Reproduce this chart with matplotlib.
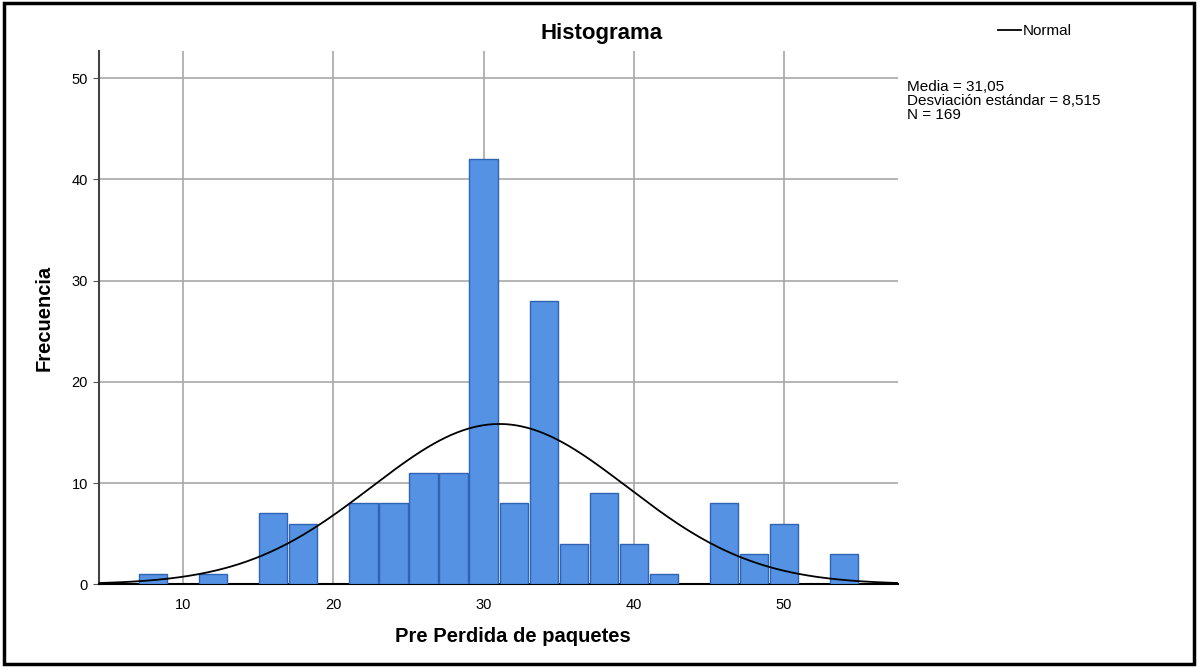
import numpy as np
import matplotlib
matplotlib.use("Agg")
import matplotlib.pyplot as plt
from matplotlib.patches import Rectangle
from matplotlib.lines import Line2D

plt.rcParams['font.family'] = ['Liberation Sans', 'DejaVu Sans']

# bin centres (bin width 2) and counts
bin_centers = [8, 12, 16, 18, 22, 24, 26, 28, 30, 32, 34, 36, 38, 40, 42, 46, 48, 50, 54]
counts = [1, 1, 7, 6, 8, 8, 11, 11, 42, 8, 28, 4, 9, 4, 1, 8, 3, 6, 3]
bin_width = 2
mean = 31.05
std = 8.515
n = 169

x_ticks = [10, 20, 30, 40, 50]
y_ticks = [0, 10, 20, 30, 40, 50]

fig = plt.figure(figsize=(12, 6.7), dpi=100)
ax = fig.add_axes([0.0825, 0.128, 0.666, 0.796])

ax.bar(bin_centers, counts, width=bin_width * 0.94, color='#5592e3',
       edgecolor='#2f63b4', linewidth=1.0, zorder=3)

xs = np.linspace(4.4, 57.6, 400)
pdf = n * bin_width / (std * np.sqrt(2 * np.pi)) * np.exp(-0.5 * ((xs - mean) / std) ** 2)
ax.plot(xs, pdf, color='black', linewidth=1.3, zorder=4)

ax.set_xlim(4.4, 57.6)
ax.set_ylim(0, 52.7)
ax.set_xticks(x_ticks)
ax.set_yticks(y_ticks)
ax.grid(True, color='#a8a8a8', linewidth=1.2, zorder=0)
ax.tick_params(axis='x', length=0, pad=10, labelsize=10.5)
ax.tick_params(axis='y', length=4, color='#555555', labelsize=10.5, pad=4)
for side in ['top', 'right']:
    ax.spines[side].set_visible(False)
ax.spines['left'].set_color('#444444')
ax.spines['left'].set_linewidth(1.5)
ax.spines['bottom'].set_color('black')
ax.spines['bottom'].set_linewidth(1.5)

fig.text(602 / 1200, 1 - 34 / 670, 'Histograma', ha='center', va='center',
         fontsize=16, fontweight='bold')
fig.text(44 / 1200, 1 - 318 / 670, 'Frecuencia', ha='center', va='center',
         rotation=90, fontsize=14.5, fontweight='bold')
fig.text(513 / 1200, 1 - 636 / 670, 'Pre Perdida de paquetes', ha='center',
         va='center', fontsize=14.5, fontweight='bold')

# legend entry
fig.add_artist(Line2D([998 / 1200, 1021 / 1200], [1 - 30 / 670, 1 - 30 / 670],
                      color='black', linewidth=1.3))
fig.text(1023 / 1200, 1 - 31 / 670, 'Normal', ha='left', va='center', fontsize=11)

stats = f"Media = 31,05\nDesviación estándar = 8,515\nN = {n}"
fig.text(907 / 1200, 1 - 80 / 670, stats, ha='left', va='top', fontsize=11,
         linespacing=0.98)

# outer frame
fig.add_artist(Rectangle((4 / 1200, 6 / 670), 1190 / 1200, 661 / 670,
                         transform=fig.transFigure, fill=False,
                         edgecolor='black', linewidth=2.5))

fig.savefig('out.png', dpi=100)
